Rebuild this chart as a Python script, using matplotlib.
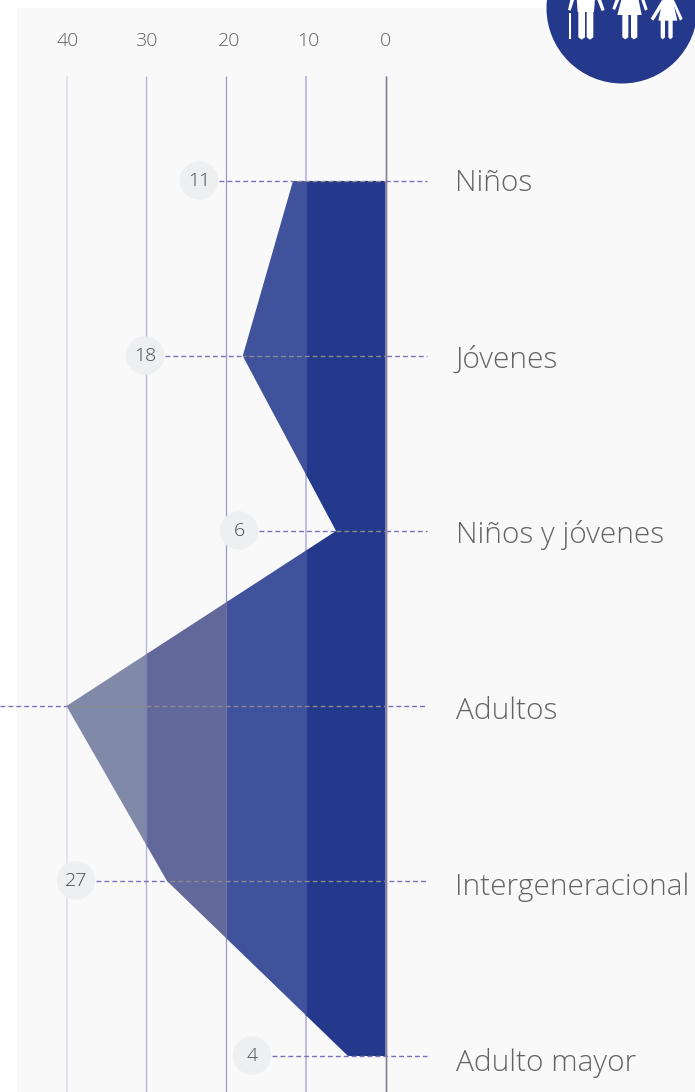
import matplotlib
matplotlib.use("Agg")
import matplotlib.pyplot as plt
from matplotlib.patches import Polygon, Rectangle, Circle

categories = ["Niños", "Jóvenes", "Niños y jóvenes", "Adultos", "Intergeneracional", "Adulto mayor"]
shape_values = [11.6, 17.9, 6.2, 40.0, 27.4, 4.7]
bubble_labels = ["11", "18", "6", None, "27", "4"]
axis_ticks = [40, 30, 20, 10, 0]

W, H = 695, 1092
X0, XU = 385.5, 7.975
Y0, YU = 181.0, 175.0
FONT = ["Open Sans", "DejaVu Sans"]
WEIGHT = "light"

fig = plt.figure(figsize=(W / 100, H / 100), dpi=100, facecolor="white")

# pixel layer: panel
bg = fig.add_axes([0, 0, 1, 1], zorder=0)
bg.set_xlim(0, W); bg.set_ylim(H, 0); bg.axis("off")
bg.add_patch(Rectangle((17, 8), W - 17, H - 8, fc="#f9f9f9", ec="none"))

# data layer
ax = fig.add_axes([0, 0, 1, 1], zorder=1)
ax.patch.set_alpha(0)
ax.set_xlim((X0 - 0) / XU, (X0 - W) / XU)
ax.set_ylim((H - Y0) / YU, (0 - Y0) / YU)
ax.axis("off")

ys = list(range(len(categories)))
grid_top = (76 - Y0) / YU
grid_bottom = (H - Y0) / YU
grid_colors = {40: "#dedcee", 30: "#b6b3dc", 20: "#9a97cc", 10: "#aeabda", 0: "#857f99"}
grid_widths = {40: 1.1, 30: 1.0, 20: 0.9, 10: 1.1, 0: 1.0}
tick_nudge = {40: -0.2, 30: 0.0, 20: -0.4, 10: -0.3, 0: 0.0}
for t in axis_ticks:
    ax.plot([t, t], [grid_top, grid_bottom], color=grid_colors[t], lw=grid_widths[t], zorder=1,
            solid_capstyle="butt")
    ax.text(t + tick_nudge[t], (41 - Y0) / YU, str(t), ha="center", va="center", fontsize=14,
            color="#5f5f5f", family=FONT, fontweight=WEIGHT, zorder=6)

# dashed leaders under the shape
bubble_px = [199, 145, 239, None, 76, 252]
DASH = (0, (3.5, 2.2))
for i, y in enumerate(ys):
    left = (X0 - 0) / XU if bubble_px[i] is None else (X0 - (bubble_px[i] + 20)) / XU
    ax.plot([left, (X0 - 427) / XU], [y, y], color="#7a70bb", lw=1.0, ls=DASH, zorder=2)

# one tone per 10-unit band
pts = [(0, ys[0])] + list(zip(shape_values, ys)) + [(0, ys[-1])]
band_colors = ["#24388c", "#40529b", "#62699a", "#8189a8"]
for b, c in enumerate(band_colors):
    p = Polygon(pts, closed=True, fc=c, ec="none", zorder=3)
    ax.add_patch(p)
    p.set_clip_path(Rectangle((b * 10, -1), 10, 7, transform=ax.transData))

# separators and baseline above the shape
for t, c in [(10, "#3d4f9c"), (20, "#6a70a8"), (30, "#7f80b4")]:
    line, = ax.plot([t, t], [grid_top, grid_bottom], color=c, lw=0.9, zorder=3.5, solid_capstyle="butt")
    line.set_clip_path(Polygon(pts, closed=True, transform=ax.transData))
ax.plot([0, 0], [grid_top, grid_bottom], color="#857f99", lw=1.0, zorder=3.6, solid_capstyle="butt")

# grey part of leaders across the shape
for y in ys:
    line, = ax.plot([42, -1], [y, y], color="#8a8a8a", lw=1.0, ls=DASH, zorder=4)
    line.set_clip_path(Polygon(pts, closed=True, transform=ax.transData))

# bubbles
ov = fig.add_axes([0, 0, 1, 1], zorder=2)
ov.set_xlim(0, W); ov.set_ylim(H, 0); ov.axis("off"); ov.patch.set_alpha(0)
for i, lab in enumerate(bubble_labels):
    if lab is None:
        continue
    py = Y0 + YU * ys[i] - 0.5
    ov.add_patch(Circle((bubble_px[i], py), 19.2, fc="#eeeff0", ec="none"))
    ov.text(bubble_px[i], py + 0.8, lab, ha="center", va="center", fontsize=14,
            color="#4a4a4a", family=FONT, fontweight=WEIGHT)

# category labels
label_shift = [2, 4, 4, 5, 6, 7]
for i, name in enumerate(categories):
    ov.text(455.5, Y0 + YU * ys[i] + label_shift[i], name, ha="left", va="center", fontsize=21.5,
            color="#636363", family=FONT, fontweight=WEIGHT)

# emblem
ov.add_patch(Circle((622, 8), 75.5, fc="#24388c", ec="none"))
def z(pts_):
    return [(530 + a / 3, b / 3) for a, b in pts_]
white = dict(fc="white", ec="none")
shapes = [
    # elder
    [(140, -5), (195, -5), (192, 36), (143, 36)],
    [(145, 30), (165, 30), (165, 112), (155, 119), (145, 112)],
    [(170, 30), (190, 30), (190, 112), (180, 119), (170, 112)],
    [(122, -5), (134, -5), (122, 32), (114, 30)],
    [(200, -5), (212, -5), (224, 30), (215, 33)],
    [(118, 38), (124, 38), (124, 118), (118, 118)],
    # woman
    [(275, -5), (325, -5), (335, 45), (262, 45)],
    [(277, 40), (295, 40), (295, 112), (286, 118), (277, 112)],
    [(303, 40), (322, 40), (322, 112), (312, 118), (303, 112)],
    [(258, -5), (270, -5), (255, 30), (247, 26)],
    [(332, -5), (342, -5), (353, 28), (345, 32)],
    # child
    [(398, 0), (428, 0), (442, 62), (385, 62)],
    [(392, 58), (405, 58), (405, 112), (398, 118), (392, 112)],
    [(415, 58), (428, 58), (428, 112), (421, 118), (415, 112)],
    [(396, 0), (404, 8), (370, 62), (362, 56)],
    [(424, 0), (432, 0), (458, 56), (450, 62)],
]
for s in shapes:
    ov.add_patch(Polygon(z(s), closed=True, **white))

fig.savefig("out.png", dpi=100, facecolor="white")
